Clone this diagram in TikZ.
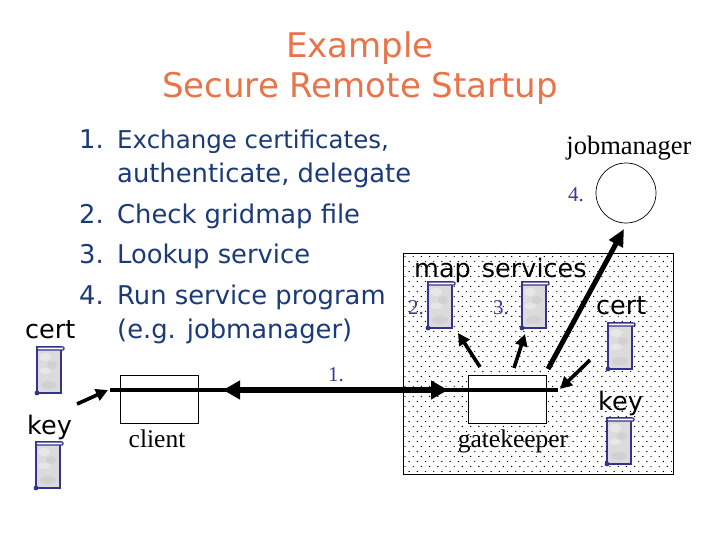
\documentclass[tikz,border=0pt]{standalone}
\usepackage{fontspec}
\setmainfont{DejaVu Sans}
\newfontfamily\serifx{Liberation Serif}
\usetikzlibrary{arrows.meta}
\definecolor{titlec}{HTML}{E8744A}
\definecolor{listc}{HTML}{1A3A78}
\definecolor{numc}{HTML}{3A3A8C}
\definecolor{iconb}{HTML}{34348C}
\tikzset{
  x=1pt,y=-1pt,
  titletext/.style={font=\fontsize{34}{40}\selectfont,text=titlec,inner sep=0pt,align=center},
  listtext/.style={font=\fontsize{25.8}{28}\selectfont,text=listc,inner sep=0pt,anchor=base west},
  blacktext/.style={font=\fontsize{25.5}{28}\selectfont,text=black,inner sep=0pt,anchor=base west},
  serifblack/.style={font=\serifx\fontsize{25.5}{28}\selectfont,text=black,inner sep=0pt,anchor=base},
  serifnum/.style={font=\serifx\fontsize{21}{24}\selectfont,text=numc,inner sep=0pt,anchor=base},
  hostbox/.style={draw=black,fill=white,line width=0.8pt,minimum width=78pt,minimum height=48pt,inner sep=0pt},
  arrowthick/.style={line width=5pt,-{Triangle[length=17pt,width=15pt]}},
  arrowmid/.style={line width=3.6pt,-{Triangle[length=12pt,width=12pt]}},
}
\newcommand{\scrollicon}[3]{% name, left x, top y
  \coordinate (#1) at (#2,#3);
  \fill[gray!28] (#2,#3) rectangle ++(24,46);
  \fill[white,opacity=.35] (#2+8,#3+10) ellipse (6 and 4);
  \fill[white,opacity=.35] (#2+8,#3+24) ellipse (6 and 3);
  \fill[gray!50,opacity=.35] (#2+15,#3+18) ellipse (5 and 4);
  \fill[gray!50,opacity=.35] (#2+12,#3+38) ellipse (8 and 4);
  \draw[iconb,line width=1.2pt] (#2,#3) rectangle ++(24,46);
  \draw[iconb,fill=white,line width=1.1pt,rounded corners=1pt] (#2,#3) rectangle ++(27,3);
  \fill[iconb] (#2,#3+46) circle (2.4);
}
\begin{document}
\begin{tikzpicture}
\useasboundingbox (0,0) rectangle (720,540);
\fill[white] (0,0) rectangle (720,540);
% dotted area
\draw[black,line width=0.8pt] (403,253) rectangle (673,474);
\begin{scope}
\clip (404,254) rectangle (672,473);
\foreach \j in {0,...,44}{
  \pgfmathsetmacro{\off}{mod(\j,2)*4.1}
  \foreach \i in {0,...,33}{
    \fill[black] (405+\off+\i*8.2,256.5+\j*5) circle (0.7);
  }
}
\end{scope}
% title
\node[titletext] (title) at (360,68) {Example\\Secure Remote Startup};
% list
\node[listtext] (n1l) at (79,149) {1.};
\node[listtext,font=\fontsize{24.5}{28}\selectfont] (l1) at (117,149) {Exchange certificates,};
\node[listtext] (l1b) at (117,183) {authenticate, delegate};
\node[listtext] (n2l) at (79,223) {2.};
\node[listtext] (l2) at (117,223) {Check gridmap file};
\node[listtext] (n3l) at (79,263) {3.};
\node[listtext] (l3) at (117,263) {Lookup service};
\node[listtext] (n4l) at (79,304) {4.};
\node[listtext] (l4) at (117,304) {Run service program};
\node[listtext] (l4b) at (117,338) {(e.g. jobmanager)};
% labels
\node[blacktext] (certl) at (25,338) {cert};
\node[blacktext] (keyl) at (27,434) {key};
\node[blacktext] (maps) at (414,277) {map\hspace{3pt} services};
\node[blacktext] (certr) at (596,314) {cert};
\node[blacktext] (keyr) at (598,410) {key};
\node[serifblack,font=\serifx\fontsize{26.5}{28}\selectfont] (jml) at (629,155) {jobmanager};
\node[serifblack] (clientl) at (157,447) {client};
\node[serifblack] (gatel) at (513,447) {gatekeeper};
\node[serifnum] (n1) at (336,381) {1.};
\node[serifnum] (n2) at (416,314) {2.};
\node[serifnum] (n3) at (501,314) {3.};
\node[serifnum] (n4) at (576,202) {4.};
% hosts
\node[hostbox,anchor=north west] (client) at (120,375) {};
\node[hostbox,anchor=north west] (gate) at (468,375) {};
\node[draw=black,line width=0.7pt,circle,minimum size=60pt,inner sep=0pt] (jm) at (626,193) {};
% icons
\scrollicon{mapi}{428}{282}
\scrollicon{svci}{522}{282}
\scrollicon{certri}{608}{323}
\scrollicon{keyri}{607}{418}
\scrollicon{certli}{37}{347}
\scrollicon{keyli}{36}{442}
% connectors
\coordinate (a) at (110,390);
\coordinate (b) at (558,390);
\coordinate (c1) at (223,390);
\coordinate (c2) at (448,390);
\draw[line width=3.4pt] (a) -- (b);
\draw[line width=6pt,{Triangle[length=17pt,width=18pt]}-{Triangle[length=17pt,width=18pt]}] (c1) -- (c2);
\coordinate (g1s) at (480,367); \coordinate (g1e) at (458,333);
\coordinate (g2s) at (514,368); \coordinate (g2e) at (525,334);
\coordinate (g3s) at (548,369); \coordinate (g3e) at (624,229);
\coordinate (g4s) at (590,360); \coordinate (g4e) at (560,389);
\coordinate (k1s) at (77,404); \coordinate (k1e) at (108,390);
\draw[arrowmid] (g1s) -- (g1e);
\draw[arrowmid] (g2s) -- (g2e);
\draw[arrowthick] (g3s) -- (g3e);
\draw[arrowmid] (g4s) -- (g4e);
\draw[arrowmid] (k1s) -- (k1e);
\end{tikzpicture}
\end{document}
